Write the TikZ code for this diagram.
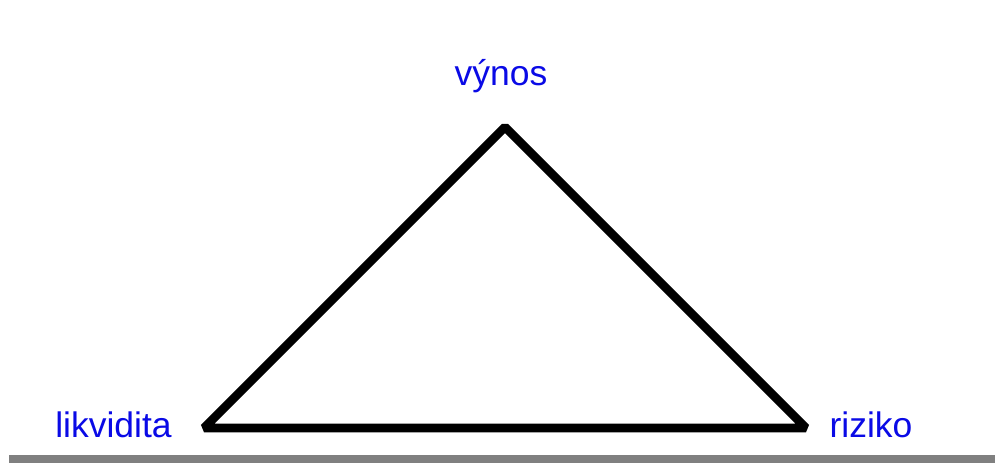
\documentclass[tikz,border=0pt]{standalone}
\usepackage{fontspec}
\setmainfont{Liberation Sans}
\usepackage{xcolor}
\definecolor{tblue}{RGB}{10,10,230}
\definecolor{tgray}{RGB}{128,128,128}
\usetikzlibrary{positioning}

\begin{document}
\begin{tikzpicture}[x=0.75pt, y=-0.75pt,
  lbl/.style={text=tblue, font=\fontsize{26.6}{30}\selectfont, inner sep=0pt, anchor=base}]
  \useasboundingbox (0,0) rectangle (995,463);
  \fill[white] (0,0) rectangle (995,463);
  % corners of the triangle
  \coordinate (top) at (505,127);
  \coordinate (left) at (204,428);
  \coordinate (right) at (806,428);
  \draw[line width=6.4pt, line join=bevel] (left) -- (top) -- (right) -- cycle;
  \node[lbl] (vynos) at (501,86) {výnos};
  \node[lbl] (likvidita) at (113.5,437) {likvidita};
  \node[lbl] (riziko) at (871,437) {riziko};
  % bar at the bottom
  \fill[tgray] (9,455) rectangle (995,463);
\end{tikzpicture}
\end{document}
